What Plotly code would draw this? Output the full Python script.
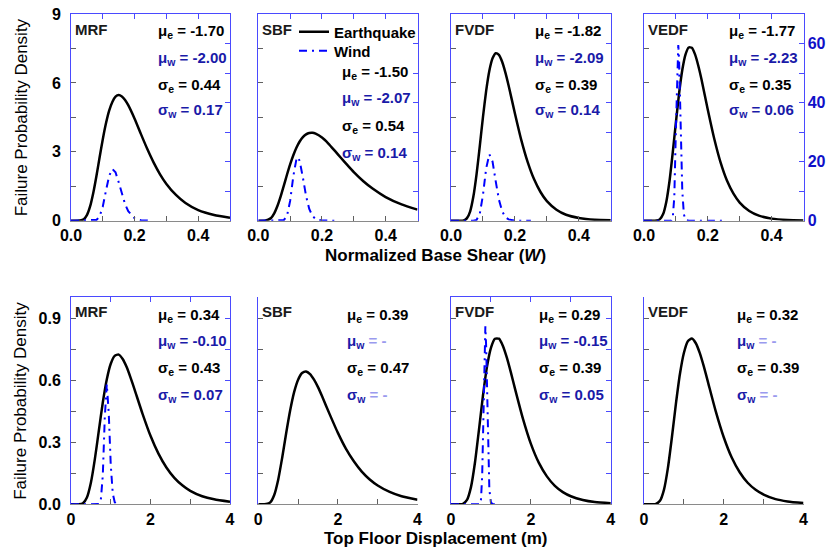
import plotly.graph_objects as go

W, H = 827, 550
FONT = "Liberation Sans, Arial, sans-serif"

# ---------------- data ----------------
panels = ["MRF", "SBF", "FVDF", "VEDF"]

# Top row: normalized base shear (W)
shear_x = [0, 0.02, 0.04, 0.05, 0.06, 0.07, 0.08, 0.09, 0.10, 0.11, 0.12, 0.13, 0.14,
           0.15, 0.16, 0.17, 0.18, 0.20, 0.22, 0.24, 0.26, 0.28, 0.30, 0.33, 0.36,
           0.40, 0.45, 0.50]
eq_shear_mrf = [0, 0, 0.06, 0.24, 0.62, 1.21, 1.95, 2.76, 3.55, 4.24, 4.79, 5.17, 5.40,
                5.47, 5.41, 5.26, 5.03, 4.44, 3.77, 3.12, 2.53, 2.02, 1.60, 1.12, 0.77,
                0.46, 0.25, 0.13]
eq_shear_sbf = [0, 0, 0.12, 0.32, 0.64, 1.05, 1.52, 2.00, 2.45, 2.85, 3.19, 3.45, 3.64,
                3.76, 3.82, 3.83, 3.79, 3.62, 3.36, 3.05, 2.73, 2.42, 2.12, 1.72, 1.39,
                1.03, 0.71, 0.48]
eq_shear_fvdf = [0, 0, 0.01, 0.11, 0.41, 1.05, 2.03, 3.24, 4.51, 5.65, 6.53, 7.07, 7.29,
                 7.22, 6.92, 6.46, 5.90, 4.67, 3.51, 2.55, 1.80, 1.25, 0.85, 0.48, 0.26,
                 0.12, 0.04, 0.02]
eq_shear_vedf = [0, 0, 0.01, 0.07, 0.29, 0.83, 1.73, 2.95, 4.28, 5.54, 6.56, 7.23, 7.54,
                 7.53, 7.24, 6.76, 6.17, 4.83, 3.58, 2.54, 1.75, 1.19, 0.79, 0.42, 0.22,
                 0.09, 0.03, 0.01]

wind_shear_x_mrf = [0, 0.06, 0.07, 0.08, 0.09, 0.10, 0.11, 0.12, 0.13, 0.14, 0.15, 0.16,
                    0.17, 0.18, 0.20, 0.22, 0.25]
wind_shear_mrf = [0, 0, 0.02, 0.25, 1.46, 4.79, 10.2, 15.2, 17.5, 16.4, 13.0, 9.05,
                  5.62, 3.20, 0.83, 0.18, 0]
wind_shear_x_sbf = [0, 0.07, 0.08, 0.09, 0.10, 0.11, 0.12, 0.125, 0.13, 0.14, 0.15, 0.16,
                    0.17, 0.18, 0.20, 0.25]
wind_shear_sbf = [0, 0, 0.17, 1.6, 6.7, 15.1, 21.0, 21.5, 20.2, 14.6, 8.4, 4.0,
                  1.6, 0.6, 0.06, 0]
wind_shear_x_fvdf = [0, 0.07, 0.08, 0.09, 0.10, 0.11, 0.12, 0.13, 0.14, 0.15, 0.16, 0.17,
                     0.18, 0.20, 0.25]
wind_shear_fvdf = [0, 0, 0.27, 2.3, 8.7, 17.7, 22.5, 20.0, 13.3, 7.1, 3.2, 1.2,
                   0.43, 0.03, 0]
wind_shear_x_vedf = [0, 0.085, 0.09, 0.095, 0.10, 0.105, 0.1075, 0.11, 0.115, 0.12,
                     0.125, 0.13, 0.14, 0.25]
wind_shear_vedf = [0, 0, 0.9, 8.0, 31.0, 56.5, 59.5, 54.5, 30.0, 10.1, 2.2, 0.33, 0, 0]

# Bottom row: top floor displacement (m)
disp_x = [0, 0.2, 0.3, 0.4, 0.5, 0.6, 0.7, 0.8, 0.9, 1.0, 1.1, 1.2, 1.3, 1.4, 1.5, 1.6,
          1.8, 2.0, 2.2, 2.4, 2.6, 2.8, 3.0, 3.3, 3.6, 4.0]
eq_disp_mrf = [0, 0, 0.005, 0.033, 0.104, 0.218, 0.356, 0.492, 0.603, 0.679, 0.717,
               0.723, 0.702, 0.663, 0.611, 0.554, 0.437, 0.331, 0.245, 0.178, 0.128,
               0.092, 0.065, 0.039, 0.024, 0.012]
eq_disp_sbf = [0, 0.001, 0.009, 0.045, 0.119, 0.225, 0.343, 0.453, 0.542, 0.602, 0.634,
               0.642, 0.629, 0.602, 0.566, 0.523, 0.432, 0.345, 0.269, 0.208, 0.158,
               0.120, 0.091, 0.060, 0.039, 0.022]
eq_disp_fvdf = [0, 0, 0.002, 0.021, 0.083, 0.202, 0.360, 0.525, 0.664, 0.756, 0.800,
                0.800, 0.765, 0.707, 0.636, 0.560, 0.414, 0.292, 0.200, 0.135, 0.089,
                0.059, 0.039, 0.021, 0.011, 0.005]
eq_disp_vedf = [0, 0, 0.002, 0.017, 0.070, 0.176, 0.324, 0.485, 0.628, 0.731, 0.788,
                0.801, 0.778, 0.730, 0.666, 0.594, 0.449, 0.324, 0.226, 0.155, 0.104,
                0.070, 0.047, 0.025, 0.014, 0.006]

wind_disp_x_mrf = [0, 0.65, 0.70, 0.75, 0.80, 0.85, 0.90, 0.95, 1.00, 1.05, 1.10, 1.15, 1.2]
wind_disp_mrf = [0, 0, 0.01, 0.2, 1.4, 4.2, 5.8, 4.4, 1.9, 0.53, 0.1, 0.01, 0]
wind_disp_x_fvdf = [0, 0.72, 0.75, 0.78, 0.80, 0.82, 0.84, 0.86, 0.88, 0.90, 0.92, 0.94,
                    0.96, 1.00, 1.05, 1.2]
wind_disp_fvdf = [0, 0, 0.22, 1.36, 3.18, 5.64, 7.82, 8.6, 7.62, 5.52, 3.31, 1.66,
                  0.71, 0.08, 0, 0]

# Statistic labels
shear_mu_e = ["-1.70", "-1.50", "-1.82", "-1.77"]
shear_mu_w = ["-2.00", "-2.07", "-2.09", "-2.23"]
shear_sig_e = ["0.44", "0.54", "0.39", "0.35"]
shear_sig_w = ["0.17", "0.14", "0.14", "0.06"]
disp_mu_e = ["0.34", "0.39", "0.29", "0.32"]
disp_mu_w = ["-0.10", None, "-0.15", None]
disp_sig_e = ["0.43", "0.47", "0.39", "0.39"]
disp_sig_w = ["0.07", None, "0.05", None]

legend_names = ["Earthquake", "Wind"]
x_titles = ["Normalized Base Shear (<i>W</i>)", "Top Floor Displacement (m)"]
y_title = "Failure Probability Density"

# ---------------- styling / layout ----------------
BLACK = "#000000"
WIND_BLUE = "#0000ff"
FRAME_BLUE = "#4a4aff"
TEXT_BLUE = "#1a1aa8"
LIGHT_BLUE = "#9a9aee"
TICK_GRAY = "#606060"


def px_x(p):
    return p / W


def px_y(p):
    return 1 - p / H


col_px = [(71, 230), (258.3, 417.5), (451, 610.8), (644, 803.5)]
row_px = [(14, 220.7), (297.3, 504.3)]

rows = [
    dict(xr=[0, 0.5], xd=0.2, xf=".1f", yl=[0, 9], yld=3, ylf="d", yr=[0, 70], yrd=20,
         ex=shear_x,
         eq=[eq_shear_mrf, eq_shear_sbf, eq_shear_fvdf, eq_shear_vedf],
         wx=[wind_shear_x_mrf, wind_shear_x_sbf, wind_shear_x_fvdf, wind_shear_x_vedf],
         wy=[wind_shear_mrf, wind_shear_sbf, wind_shear_fvdf, wind_shear_vedf],
         mu_e=shear_mu_e, mu_w=shear_mu_w, sig_e=shear_sig_e, sig_w=shear_sig_w),
    dict(xr=[0, 4], xd=2, xf="d", yl=[0, 1.0], yld=0.3, ylf=".1f", yr=[0, 10], yrd=3,
         ex=disp_x,
         eq=[eq_disp_mrf, eq_disp_sbf, eq_disp_fvdf, eq_disp_vedf],
         wx=[wind_disp_x_mrf, None, wind_disp_x_fvdf, None],
         wy=[wind_disp_mrf, None, wind_disp_fvdf, None],
         mu_e=disp_mu_e, mu_w=disp_mu_w, sig_e=disp_sig_e, sig_w=disp_sig_w),
]

# stat text positions (pixel) per row/panel
stat_x = [[156, 340, 533, 727], [156, 345, 537, 735]]
stat_y_top = [[31, 58, 85, 111], [73, 98, 126, 153], [31, 58, 85, 111], [31, 58, 85, 111]]
stat_y_bot = [315, 341, 368, 395]
label_y = [29, 311]


def aname(prefix, n):
    return prefix + ("" if n == 1 else str(n))


def tref(prefix, n):
    return prefix + ("" if n == 1 else str(n))


fig = go.Figure()
legend_font = dict(family=FONT, size=15, color=BLACK, weight="bold")
layout = dict(
    width=W, height=H, margin=dict(l=0, r=0, t=0, b=0, autoexpand=False),
    paper_bgcolor="white", plot_bgcolor="white",
    showlegend=True,
    legend=dict(x=px_x(294), y=px_y(32), xanchor="left", yanchor="middle",
                bgcolor="rgba(0,0,0,0)", itemwidth=30, font=legend_font),
    legend2=dict(x=px_x(294), y=px_y(51), xanchor="left", yanchor="middle",
                 bgcolor="rgba(0,0,0,0)", itemwidth=30, font=legend_font),
)
annotations = []
tickfont = dict(family=FONT, size=16, color=BLACK, weight="bold")
tickfont_blue = dict(family=FONT, size=16, color="#1010c8", weight="bold")

for r, R in enumerate(rows):
    for c in range(4):
        k = r * 4 + c
        xb, xt = k + 1, k + 9
        yl, yr = 2 * k + 1, 2 * k + 2
        xdom = [px_x(col_px[c][0]), px_x(col_px[c][1])]
        ydom = [px_y(row_px[r][1]), px_y(row_px[r][0])]

        layout[aname("xaxis", xb)] = dict(
            domain=xdom, range=R["xr"], anchor=tref("y", yl), side="bottom",
            automargin=False, ticklabelstandoff=0,
            showline=True, linecolor="#8a8a8a", linewidth=1,
            ticks="inside", ticklen=5, tickcolor=TICK_GRAY, tick0=0, dtick=R["xd"],
            tickformat=R["xf"], tickfont=tickfont,
            minor=dict(ticks="inside", dtick=R["xd"] / 2, ticklen=5, tickcolor=TICK_GRAY),
            showgrid=False, zeroline=False, fixedrange=True)
        layout[aname("xaxis", xt)] = dict(
            domain=xdom, range=R["xr"], anchor=tref("y", yr), side="top",
            overlaying=tref("x", xb), automargin=False,
            showline=True, linecolor=FRAME_BLUE, linewidth=1,
            ticks="inside", ticklen=5, tickcolor=FRAME_BLUE, tick0=0, dtick=R["xd"],
            minor=dict(ticks="inside", dtick=R["xd"] / 2, ticklen=5, tickcolor=FRAME_BLUE),
            showticklabels=False, showgrid=False, zeroline=False, fixedrange=True)
        layout[aname("yaxis", yl)] = dict(
            domain=ydom, range=R["yl"], anchor=tref("x", xb), side="left",
            automargin=False, ticklabelstandoff=6,
            showline=True, linecolor=FRAME_BLUE, linewidth=1,
            ticks="inside", ticklen=5, tickcolor=TICK_GRAY, tick0=0, dtick=R["yld"],
            tickformat=R["ylf"], tickfont=tickfont, showticklabels=(c == 0),
            minor=dict(ticks="inside", dtick=R["yld"] / 2, ticklen=5, tickcolor=TICK_GRAY),
            showgrid=False, zeroline=False, fixedrange=True)
        layout[aname("yaxis", yr)] = dict(
            domain=ydom, range=R["yr"], anchor=tref("x", xt), side="right",
            overlaying=tref("y", yl), automargin=False,
            showline=True, linecolor=FRAME_BLUE, linewidth=1,
            ticks="inside", ticklen=5, tickcolor=FRAME_BLUE, tick0=0, dtick=R["yrd"],
            tickfont=tickfont_blue, showticklabels=(c == 3),
            minor=dict(ticks="inside", dtick=R["yrd"] / 2, ticklen=5, tickcolor=FRAME_BLUE),
            showgrid=False, zeroline=False, fixedrange=True)

        fig.add_trace(go.Scatter(
            x=R["ex"], y=R["eq"][c], mode="lines", name=legend_names[0],
            line=dict(color=BLACK, width=2.5, shape="spline", smoothing=0.6),
            xaxis=tref("x", xb), yaxis=tref("y", yl), legend="legend",
            showlegend=(k == 0), hoverinfo="skip"))
        if R["wy"][c] is not None:
            fig.add_trace(go.Scatter(
                x=R["wx"][c], y=R["wy"][c], mode="lines", name=legend_names[1],
                line=dict(color=WIND_BLUE, width=2, dash="8px,5px,2px,5px"),
                xaxis=tref("x", xt), yaxis=tref("y", yr), legend="legend2",
                showlegend=(k == 0), hoverinfo="skip"))

        # panel label
        annotations.append(dict(
            x=px_x(col_px[c][0] + 2), y=px_y(label_y[r]), xref="paper", yref="paper",
            xanchor="left", yanchor="middle", showarrow=False, text=panels[c],
            font=dict(family=FONT, size=15, color="#1a1a1a", weight="bold")))

        # statistics
        ys = stat_y_top[c] if r == 0 else stat_y_bot
        mu_w = R["mu_w"][c]
        sig_w = R["sig_w"][c]
        lines = [
            ("μ<sub>e</sub> = " + R["mu_e"][c], BLACK),
            ("μ<sub>w</sub> = " + mu_w if mu_w is not None else
             "μ<sub>w</sub><span style='color:%s'> = -</span>" % LIGHT_BLUE, TEXT_BLUE),
            ("σ<sub>e</sub> = " + R["sig_e"][c], BLACK),
            ("σ<sub>w</sub> = " + sig_w if sig_w is not None else
             "σ<sub>w</sub><span style='color:%s'> = -</span>" % LIGHT_BLUE, TEXT_BLUE),
        ]
        for (txt, col), yy in zip(lines, ys):
            annotations.append(dict(
                x=px_x(stat_x[r][c]), y=px_y(yy), xref="paper", yref="paper",
                xanchor="left", yanchor="middle", showarrow=False, text=txt,
                font=dict(family=FONT, size=15, color=col, weight="bold")))

    # y title for the row
    annotations.append(dict(
        x=px_x(21), y=px_y((row_px[r][0] + row_px[r][1]) / 2), xref="paper", yref="paper",
        xanchor="center", yanchor="middle", showarrow=False, textangle=-90, text=y_title,
        font=dict(family=FONT, size=17, color=BLACK)))

# x titles
annotations.append(dict(
    x=px_x(436), y=px_y(255), xref="paper", yref="paper", xanchor="center",
    yanchor="middle", showarrow=False, text=x_titles[0],
    font=dict(family=FONT, size=17, color=BLACK, weight="bold")))
annotations.append(dict(
    x=px_x(436), y=px_y(538), xref="paper", yref="paper", xanchor="center",
    yanchor="middle", showarrow=False, text=x_titles[1],
    font=dict(family=FONT, size=17, color=BLACK, weight="bold")))

layout["annotations"] = annotations
fig.update_layout(**layout)
fig.write_html("out.html")
